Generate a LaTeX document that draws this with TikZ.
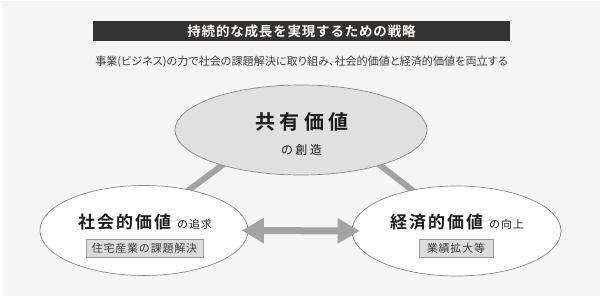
\documentclass[tikz,border=0pt]{standalone}
\usepackage{fontspec}
\setmainfont{Noto Sans CJK JP}[BoldFont={Noto Sans CJK JP Bold}]
\usetikzlibrary{shapes.geometric,arrows.meta}
\definecolor{bgc}{HTML}{F4F5F4}
\definecolor{barc}{HTML}{353230}
\definecolor{linec}{HTML}{A3A3A3}
\definecolor{topfill}{HTML}{E0E0E0}
\definecolor{edgec}{HTML}{8A8A8A}
\definecolor{boxfill}{HTML}{DCDCDC}
\definecolor{boxedge}{HTML}{9A9A9A}
\definecolor{txt}{HTML}{1C1C1C}
\pgfdeclarelayer{bottom}
\pgfdeclarelayer{behind}
\pgfsetlayers{bottom,behind,main}
\newcommand{\fsz}[2]{\fontsize{#1pt}{#1pt}\selectfont\addfontfeature{LetterSpace=#2}}
\begin{document}
\begin{tikzpicture}[x=1pt,y=-1pt,
  ell/.style={ellipse,draw=edgec,line width=0.7pt,inner sep=0pt},
  conn/.style={draw=linec,line width=6pt},
  tag/.style={draw=boxedge,fill=boxfill,line width=0.6pt,inner sep=0pt,text=txt!85},
  bigarrow/.style={draw=linec,line width=7pt,{Triangle[length=22pt,width=24pt]}-{Triangle[length=22pt,width=24pt]}},
  lbl/.style={inner sep=0pt,text=txt}]
\useasboundingbox (0,0) rectangle (600,296);
\begin{pgfonlayer}{bottom}
\fill[white] (0,0) rectangle (600,296);
\fill[bgc] (1.5,1.5) rectangle (600,296);
\end{pgfonlayer}
% title
\node[fill=barc,minimum width=417pt,minimum height=20pt,inner sep=0pt,text=white] (title) at (301.5,31)
  {\fsz{13.5}{6}\bfseries 持続的な成長を実現するための戦略};
\node[lbl,text=txt!85] (sub) at (301.5,62) {\fontsize{11.1pt}{11pt}\selectfont\addfontfeature{RawFeature=+palt}事業(ビジネス)の力で社会の課題解決に取り組み、社会的価値と経済的価値を両立する};
% ellipses
\node[ell,fill=white,minimum width=208pt,minimum height=90pt] (left) at (144,230.5) {};
\node[ell,fill=white,minimum width=209pt,minimum height=90pt] (right) at (456.5,231) {};
\node[ell,fill=topfill,minimum width=252pt,minimum height=90pt] (top) at (301,130) {};
% connectors behind the ellipses
\begin{pgfonlayer}{behind}
\draw[conn] ([xshift=-31pt]top.center) -- ([xshift=-10pt]left.center);
\draw[conn] ([xshift=34pt]top.center) -- ([xshift=8pt]right.center);
\end{pgfonlayer}
% double arrow
\draw[bigarrow] ([xshift=-6.5pt]left.east) -- ([xshift=8pt]right.west);
% texts
\node[lbl,anchor=base] (toptitle) at (302,129.5) {\fsz{20}{22}\bfseries 共有価値};
\node[lbl,anchor=base] (topsub) at (301.5,154.5) {\fsz{12}{20}の創造};
\node[lbl,anchor=base] (lefttitle) at (145,229)
  {{\fsz{17}{12}\bfseries 社会的価値}\hspace{6pt}{\fsz{11}{8}の追求}};
\node[lbl,anchor=base] (righttitle) at (457,228.5)
  {{\fsz{17}{12}\bfseries 経済的価値}\hspace{6pt}{\fsz{11}{8}の向上}};
\node[tag,minimum width=117pt,minimum height=18pt] (lefttag) at (144.5,248) {\fsz{11}{7}住宅産業の課題解決};
\node[tag,minimum width=74pt,minimum height=18pt] (righttag) at (456,248) {\fsz{11}{7}業績拡大等};
\end{tikzpicture}
\end{document}
